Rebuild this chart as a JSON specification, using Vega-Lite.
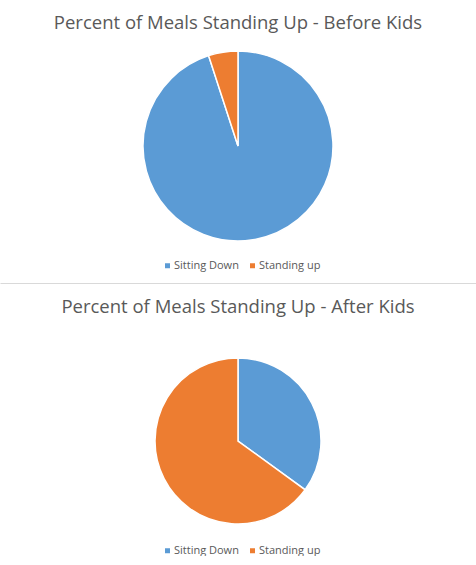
{
  "$schema": "https://vega.github.io/schema/vega-lite/v6.json",
  "padding": {"top": 13, "left": 0, "right": 0, "bottom": 0},
  "spacing": 14,
  "background": "white",
  "resolve": {"scale": {"color": "independent"}, "legend": {"color": "independent"}},
  "config": {
    "view": {"stroke": null},
    "font": "Open Sans",
    "title": {"fontSize": 18.5, "fontWeight": "normal", "color": "#595959", "font": "Open Sans", "anchor": "middle"},
    "legend": {"labelFont": "Open Sans", "labelFontSize": 11, "labelColor": "#595959", "symbolType": "square", "symbolSize": 25, "symbolStrokeWidth": 0, "direction": "horizontal", "columnPadding": 8, "labelOffset": 1, "title": null}
  },
  "data": {"values": [
    {"period": "Before Kids", "meal": "Sitting Down", "percent": 95},
    {"period": "Before Kids", "meal": "Standing up", "percent": 5},
    {"period": "After Kids", "meal": "Sitting Down", "percent": 35},
    {"period": "After Kids", "meal": "Standing up", "percent": 65}
  ]},
  "vconcat": [
    {
      "width": 476,
      "height": 200,
      "title": {"text": "Percent of Meals Standing Up - Before Kids", "offset": 14},
      "transform": [{"filter": "datum.period == 'Before Kids'"}],
      "layer": [
        {
          "mark": {"type": "arc", "radius": 95, "stroke": "white", "strokeWidth": 1.5},
          "encoding": {
            "theta": {"field": "percent", "type": "quantitative", "stack": true},
            "color": {"field": "meal", "type": "nominal",
              "scale": {"domain": ["Sitting Down", "Standing up"], "range": ["#5B9BD5", "#ED7D31"]},
              "legend": {"orient": "none", "legendX": 162, "legendY": 214}},
            "order": {"field": "meal"}
          }
        },
        {
          "mark": {"type": "point", "opacity": 0},
          "encoding": {
            "x": {"field": "percent", "type": "quantitative",
              "axis": {"domain": true, "domainColor": "#d9d9d9", "domainWidth": 1, "ticks": false, "labels": false, "grid": false, "title": null, "offset": 37}}
          }
        }
      ]
    },
    {
      "width": 476,
      "height": 222,
      "title": {"text": "Percent of Meals Standing Up - After Kids", "offset": 14},
      "transform": [{"filter": "datum.period == 'After Kids'"}],
      "mark": {"type": "arc", "radius": 83, "stroke": "white", "strokeWidth": 1.5},
      "encoding": {
        "theta": {"field": "percent", "type": "quantitative", "stack": true},
        "color": {"field": "meal", "type": "nominal",
          "scale": {"domain": ["Sitting Down", "Standing up"], "range": ["#5B9BD5", "#ED7D31"]},
          "legend": {"orient": "none", "legendX": 162, "legendY": 215}},
        "order": {"field": "meal"}
      }
    }
  ]
}
